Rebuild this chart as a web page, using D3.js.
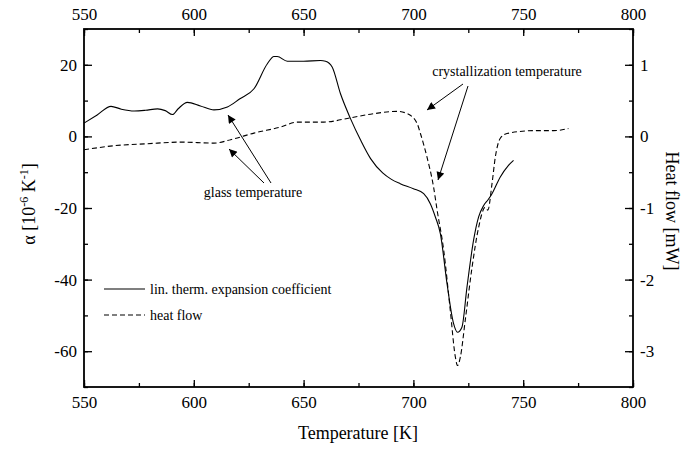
<!DOCTYPE html>
<html>
<head>
<meta charset="utf-8">
<script src="https://cdn.jsdelivr.net/npm/d3@7"></script>
<style>
  body { margin: 0; background: #fff; }
  svg, .axis text { font-family: "Liberation Serif", "Times New Roman", serif; }
  .axis path { stroke: #000; stroke-width: 1.8px; }
  .axis line { stroke: #000; stroke-width: 1.3px; }
  .axis text { font-size: 17px; fill: #000; }
</style>
</head>
<body>
<svg id="chart" width="698" height="450"></svg>
<script>
// lin. therm. expansion coefficient, temperature [K] vs alpha [1e-6/K]
var alphaT = [550, 556, 562.3, 567, 572.9, 578, 583.5, 587, 590.3, 593, 597.1, 603, 609.2, 615.3, 621,
  627.4, 633.5, 636.5, 638, 642.6, 650, 657.7, 660, 663, 666.8, 671.4, 676, 680.5, 686, 690, 694,
  700, 704.7, 707.7, 710, 712.3, 715.3, 718.3, 720.1, 722.1, 724.4, 727.4, 729.7, 732, 734,
  735.8, 739.5, 743.3, 745.6];
var alphaV = [3.7, 6.0, 8.4, 7.6, 7.1, 7.3, 7.7, 7.2, 6.1, 7.8, 9.5, 8.5, 7.4, 8.2, 10.5,
  13.3, 20.3, 22.3, 22.3, 21.0, 21.0, 21.2, 21.0, 19.4, 11.9, 4.9, -1.1, -6.2, -10.2, -12.0, -13.2,
  -14.6, -16.0, -18.8, -22.5, -27.2, -41.1, -52.3, -54.7, -53.3, -42.1, -29.0, -22.5, -19.3, -17.7,
  -16.0, -11.4, -8.1, -6.7];

// heat flow [mW]
var heatT = [550, 563.8, 579, 594.1, 609.2, 616.8, 627.4, 639.5, 647.1, 659.2, 671.4, 680.5, 692.6,
  697.1, 701.7, 703.2, 706.2, 709.2, 710.8, 713.8, 716.8, 719.1, 720.1, 721.4, 723.6, 726.7,
  729.7, 732.7, 733.9, 735.8, 737.3, 739.5, 742.6, 754.7, 763.8, 770.6];
var heatV = [-0.186, -0.13, -0.102, -0.08, -0.094, -0.046, 0.046, 0.13, 0.2, 0.2, 0.26, 0.31, 0.35,
  0.32, 0.18, 0.04, -0.29, -0.71, -1.03, -1.59, -2.43, -3.08, -3.2, -3.08, -2.57, -1.83,
  -1.27, -0.99, -1.03, -0.66, -0.29, -0.03, 0.04, 0.08, 0.08, 0.11];

var xTicks = [550, 600, 650, 700, 750, 800];
var alphaTicks = [20, 0, -20, -40, -60];
var heatTicks = [1, 0, -1, -2, -3];

var svg = d3.select("#chart");
var pL = 84, pR = 633, pT = 29, pB = 387;

var x = d3.scaleLinear().domain([550, 800]).range([pL, pR]);
var yA = d3.scaleLinear().domain([-70, 30]).range([pB, pT]);
var yH = d3.scaleLinear().domain([-3.5, 1.5]).range([pB, pT]);

var plain = function (d) { return String(d); }; // hyphen minus, like the original

// minor ticks first, then major ticks with labels
function minor(axis, vals) {
  return axis.tickValues(vals).tickSize(4).tickFormat("");
}
svg.append("g").attr("class", "axis").attr("transform", "translate(0," + pB + ")")
  .call(minor(d3.axisTop(x), d3.range(550, 801, 25)));
svg.append("g").attr("class", "axis").attr("transform", "translate(0," + pT + ")")
  .call(minor(d3.axisBottom(x), d3.range(550, 801, 25)));
svg.append("g").attr("class", "axis").attr("transform", "translate(" + pL + ",0)")
  .call(minor(d3.axisRight(yA), d3.range(-70, 31, 10)));
svg.append("g").attr("class", "axis").attr("transform", "translate(" + pR + ",0)")
  .call(minor(d3.axisLeft(yH), d3.range(-3.5, 1.6, 0.5)));

var xb = svg.append("g").attr("class", "axis").attr("transform", "translate(0," + pB + ")")
  .call(d3.axisTop(x).tickValues(xTicks).tickSize(7).tickFormat(plain));
xb.selectAll("text").attr("y", 21).attr("dy", "0");
var xt = svg.append("g").attr("class", "axis").attr("transform", "translate(0," + pT + ")")
  .call(d3.axisBottom(x).tickValues(xTicks).tickSize(7).tickFormat(plain));
xt.selectAll("text").attr("y", -9).attr("dy", "0");

var ya = svg.append("g").attr("class", "axis").attr("transform", "translate(" + pL + ",0)")
  .call(d3.axisRight(yA).tickValues(alphaTicks).tickSize(8).tickFormat(plain));
ya.selectAll("text").attr("x", -7).attr("text-anchor", "end");
var yh = svg.append("g").attr("class", "axis").attr("transform", "translate(" + pR + ",0)")
  .call(d3.axisLeft(yH).tickValues(heatTicks).tickSize(8).tickFormat(plain));
yh.selectAll("text").attr("x", 7).attr("text-anchor", "start");

svg.selectAll(".axis .domain").remove();
svg.append("rect").attr("x", pL).attr("y", pT)
  .attr("width", pR - pL).attr("height", pB - pT)
  .attr("fill", "none").attr("stroke", "#000").attr("stroke-width", 1.8);

// curves
var alphaLine = d3.line().curve(d3.curveMonotoneX)
  .x(function (d, i) { return x(alphaT[i]); })
  .y(function (d) { return yA(d); });
var heatLine = d3.line().curve(d3.curveMonotoneX)
  .x(function (d, i) { return x(heatT[i]); })
  .y(function (d) { return yH(d); });

svg.append("path").attr("d", alphaLine(alphaV))
  .attr("fill", "none").attr("stroke", "#000").attr("stroke-width", 1.1);
svg.append("path").attr("d", heatLine(heatV))
  .attr("fill", "none").attr("stroke", "#000").attr("stroke-width", 1.1)
  .attr("stroke-dasharray", "5,3");

// annotations
svg.append("defs").append("marker").attr("id", "ah")
  .attr("viewBox", "0 0 10 10").attr("refX", 10).attr("refY", 5)
  .attr("markerWidth", 12).attr("markerHeight", 8).attr("markerUnits", "userSpaceOnUse")
  .attr("orient", "auto")
  .append("path").attr("d", "M0,0L10,5L0,10z").attr("fill", "#000");

function arrow(x1, y1, x2, y2) {
  svg.append("line").attr("x1", x1).attr("y1", y1).attr("x2", x2).attr("y2", y2)
    .attr("stroke", "#000").attr("stroke-width", 1).attr("marker-end", "url(#ah)");
}
arrow(463, 84, 427, 110);
arrow(468, 86, 438, 180);
arrow(271, 183, 228, 115);
arrow(264, 183, 229, 149);

svg.append("text").attr("x", 507).attr("y", 76).attr("text-anchor", "middle")
  .attr("font-size", 14).text("crystallization temperature");
svg.append("text").attr("x", 253).attr("y", 197).attr("text-anchor", "middle")
  .attr("font-size", 14).text("glass temperature");

// legend
svg.append("line").attr("x1", 104).attr("x2", 145).attr("y1", 289).attr("y2", 289)
  .attr("stroke", "#000").attr("stroke-width", 1.1);
svg.append("text").attr("x", 150).attr("y", 294).attr("font-size", 14)
  .text("lin. therm. expansion coefficient");
svg.append("line").attr("x1", 104).attr("x2", 145).attr("y1", 315).attr("y2", 315)
  .attr("stroke", "#000").attr("stroke-width", 1.1).attr("stroke-dasharray", "5,3");
svg.append("text").attr("x", 150).attr("y", 320).attr("font-size", 14).text("heat flow");

// axis titles
svg.append("text").attr("x", 358).attr("y", 439).attr("text-anchor", "middle")
  .attr("font-size", 18).text("Temperature [K]");

var yl = svg.append("text").attr("transform", "translate(35,204) rotate(-90)")
  .attr("text-anchor", "middle").attr("font-size", 18);
yl.append("tspan").text("\u03b1 [10");
yl.append("tspan").attr("dy", -7).attr("font-size", 12).text("-6");
yl.append("tspan").attr("dy", 7).text(" K");
yl.append("tspan").attr("dy", -7).attr("font-size", 12).text("-1");
yl.append("tspan").attr("dy", 7).text("]");

svg.append("text").attr("transform", "translate(666,211) rotate(90)")
  .attr("text-anchor", "middle").attr("font-size", 18).text("Heat flow [mW]");
</script>
</body>
</html>
